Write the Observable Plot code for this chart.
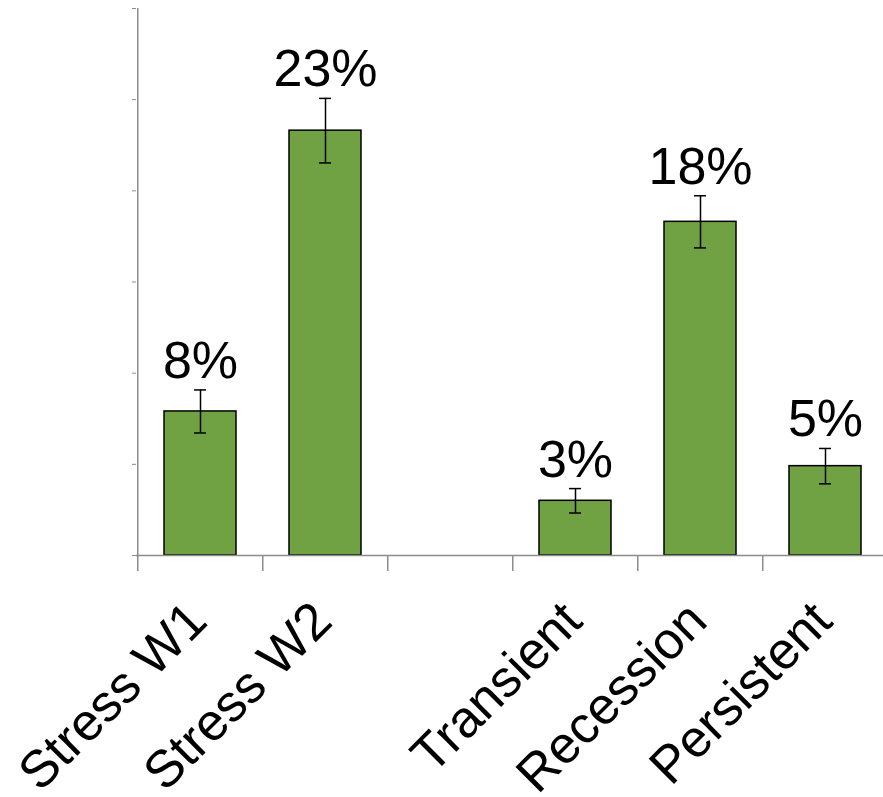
<!DOCTYPE html>
<html><head><meta charset="utf-8">
<script src="https://cdn.jsdelivr.net/npm/d3@7"></script>
<script src="https://cdn.jsdelivr.net/npm/@observablehq/plot@0.6"></script>
<style>html,body{margin:0;padding:0;background:#fff;overflow:hidden}</style>
</head><body><div id="chart"></div>
<script>
const categories = ["Stress W1", "Stress W2", " ", "Transient", "Recession", "Persistent"];
const values = [7.9, 23.3, null, 3.0, 18.3, 4.9];
const errors = [1.18, 1.77, null, 0.67, 1.43, 0.97];
const valueLabels = ["8%", "23%", "", "3%", "18%", "5%"];
const tickLabels = ["Stress W1", "Stress W2", "", "Transient", "Recession", "Persistent"];
const yTicks = [0, 5, 10, 15, 20, 25, 30];

const rows = categories.map((c, i) => ({cat: c, value: values[i], err: errors[i], label: valueLabels[i], tick: tickLabels[i]}));
const bars = rows.filter(d => d.value != null);

const W = 883, H = 797, xLeft = 136, xRight = 889, yTop = 8, yBottom = 555;
const step = (xRight - xLeft) / categories.length;
const pad = 0.426;
const gray = "#8c8c8c";
const green = "#70A142";

const chart = Plot.plot({
  width: W, height: H,
  marginLeft: xLeft, marginRight: 0, marginTop: yTop, marginBottom: H - yBottom,
  style: {fontFamily: "'Liberation Sans', Arial, sans-serif", background: "#fff", overflow: "hidden"},
  x: {domain: categories, range: [xLeft, xRight], paddingInner: pad, paddingOuter: pad / 2},
  y: {domain: [0, 30], range: [yBottom, yTop]},
  marks: [
    Plot.barY(bars, {x: "cat", y: "value", fill: green, stroke: "#000", strokeWidth: 1.5}),
    Plot.ruleX(bars, {x: "cat", y1: d => d.value - d.err, y2: d => d.value + d.err, stroke: "#000", strokeWidth: 1.5}),
    Plot.tickY(bars, {x: "cat", y: d => d.value + d.err, insetLeft: 30, insetRight: 30, stroke: "#000", strokeWidth: 1.5}),
    Plot.tickY(bars, {x: "cat", y: d => d.value - d.err, insetLeft: 30, insetRight: 30, stroke: "#000", strokeWidth: 1.5}),
    Plot.text(bars, {x: "cat", y: d => d.value + d.err, text: "label", dy: -12, lineAnchor: "bottom", fontSize: 52, fill: "#000"}),
    Plot.ruleY([0], {stroke: gray, strokeWidth: 1.5}),
    Plot.ruleX([categories[0]], {x: d => d, dx: -step / 2, y1: 0, y2: 30, stroke: gray, strokeWidth: 1.5}),
    Plot.axisY({ticks: yTicks, tickSize: 4, tickFormat: () => "", label: null, stroke: gray}),
    Plot.axisX({tickSize: 16, tickFormat: () => "", label: null, dx: -step / 2, stroke: gray, strokeWidth: 1.5}),
    Plot.text(rows, {x: "cat", text: "tick", frameAnchor: "bottom", rotate: -45, textAnchor: "end", lineAnchor: "bottom", dx: 9, dy: 68, fontSize: 52, fill: "#000"})
  ]
});
document.getElementById("chart").appendChild(chart);
</script>
</body></html>
